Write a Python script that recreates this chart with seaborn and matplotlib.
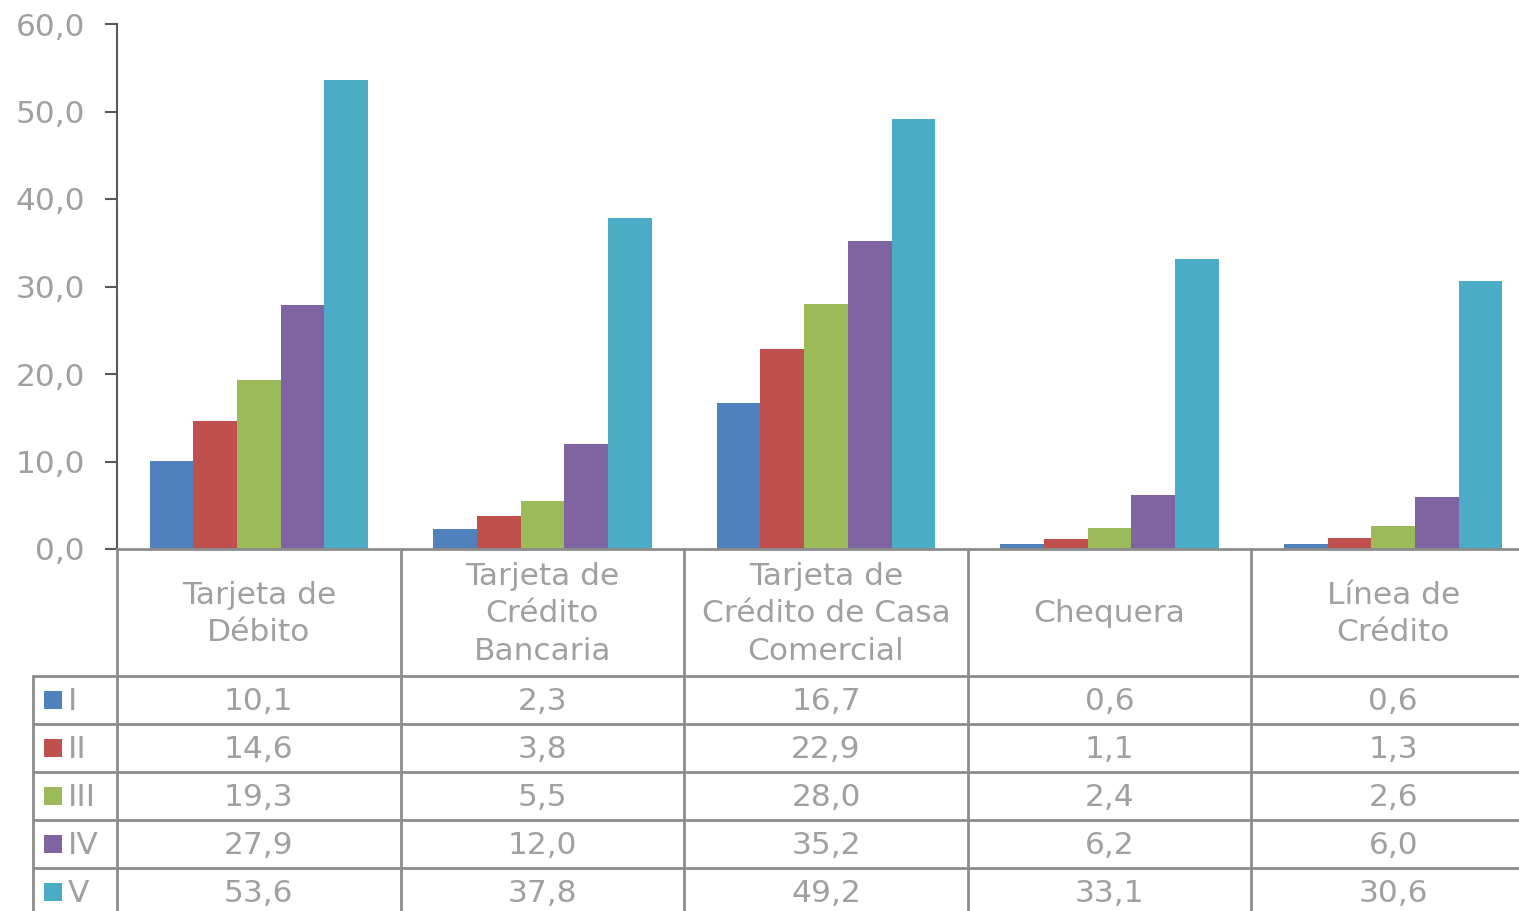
import matplotlib
matplotlib.use("Agg")
import matplotlib.pyplot as plt
import matplotlib.transforms as mtransforms
from matplotlib.lines import Line2D
from matplotlib.patches import Rectangle
import seaborn as sns
import pandas as pd

categories = ["Tarjeta de\nDébito", "Tarjeta de\nCrédito\nBancaria",
              "Tarjeta de\nCrédito de Casa\nComercial", "Chequera", "Línea de\nCrédito"]
groups = ["I", "II", "III", "IV", "V"]
v_I = [10.1, 2.3, 16.7, 0.6, 0.6]
v_II = [14.6, 3.8, 22.9, 1.1, 1.3]
v_III = [19.3, 5.5, 28.0, 2.4, 2.6]
v_IV = [27.9, 12.0, 35.2, 6.2, 6.0]
v_V = [53.6, 37.8, 49.2, 33.1, 30.6]
series = [v_I, v_II, v_III, v_IV, v_V]
colors = ["#4F81BD", "#C0504D", "#9BBB59", "#8064A2", "#4BACC6"]
yticks = [0, 10, 20, 30, 40, 50, 60]

rows = []
for g, vals in zip(groups, series):
    for c, v in zip(categories, vals):
        rows.append({"cat": c, "grp": g, "val": v})
df = pd.DataFrame(rows)

sns.set_theme(style="white")
plt.rcParams["font.family"] = ["DejaVu Sans"]

W, H = 1519, 911
FS = 22.5
fig = plt.figure(figsize=(W / 100, H / 100), dpi=100)
ax = fig.add_axes([117 / W, 1 - 549 / H, (1535 - 117) / W, (549 - 24) / H])

sns.barplot(data=df, x="cat", y="val", hue="grp", order=categories, hue_order=groups,
            palette=colors, width=0.77, saturation=1, legend=False, ax=ax,
            edgecolor="none", linewidth=0)

txt = "#A0A0A0"
grid = "#8C8C8C"
ax.set_xlim(-0.5, 4.5)
ax.set_ylim(0, 60)
ax.set_yticks(yticks)
ax.set_yticklabels([f"{t:.1f}".replace(".", ",") for t in yticks], color=txt, fontsize=FS)
ax.set_xticks([])
ax.set_xlabel("")
ax.set_ylabel("")
ax.tick_params(axis="y", length=9, width=1.5, color="#595959", pad=14, left=True)
for s in ["top", "right"]:
    ax.spines[s].set_visible(False)
ax.spines["left"].set_color("#595959")
ax.spines["left"].set_linewidth(1.5)
ax.spines["bottom"].set_color(grid)
ax.spines["bottom"].set_linewidth(2)

blend = mtransforms.blended_transform_factory(ax.transData, fig.transFigure)

def fy(y):
    return 1 - y / H

# category header labels
for i, c in enumerate(categories):
    ax.text(i, fy(614), c, transform=blend, ha="center", va="center",
            color=txt, fontsize=FS, linespacing=1.36, clip_on=False)

# vertical lines
for xb in [-0.5, 0.5, 1.5, 2.5, 3.5]:
    fig.add_artist(Line2D([xb, xb], [fy(549), fy(911)], transform=blend,
                          color=grid, linewidth=2))
# horizontal lines
row_tops = [676, 724, 772, 820, 868]
for yb in row_tops:
    fig.add_artist(Line2D([33 / W, 1.0], [fy(yb), fy(yb)], transform=fig.transFigure,
                          color=grid, linewidth=2))
fig.add_artist(Line2D([33 / W, 33 / W], [fy(676), fy(911)], transform=fig.transFigure,
                      color=grid, linewidth=2))

# data rows
for k, (g, vals, col) in enumerate(zip(groups, series, colors)):
    yc = row_tops[k] + 24
    fig.add_artist(Rectangle((44 / W, fy(yc + 9)), 18 / W, 18 / H,
                             transform=fig.transFigure, facecolor=col, edgecolor="none"))
    fig.text(68 / W, fy(yc + 1), g, ha="left", va="center", color=txt, fontsize=FS)
    for i, v in enumerate(vals):
        ax.text(i, fy(yc + 2), f"{v:.1f}".replace(".", ","), transform=blend,
                ha="center", va="center", color=txt, fontsize=FS, clip_on=False)

fig.savefig("out.png", dpi=100)
